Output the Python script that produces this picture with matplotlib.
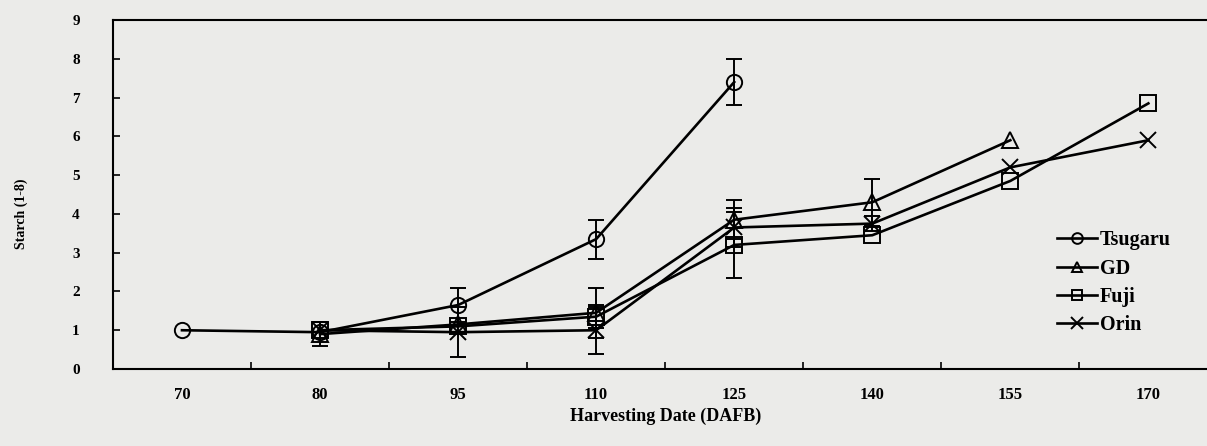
import numpy as np
import matplotlib
matplotlib.use("Agg")
import matplotlib.pyplot as plt

# ---- Data ----
dates = ["70", "80", "95", "110", "125", "140", "155", "170"]

tsugaru = [1.0, 0.95, 1.65, 3.35, 7.4, None, None, None]
tsugaru_err = [0, 0, 0.45, 0.5, 0.6, 0, 0, 0]

gd = [None, 0.9, 1.15, 1.45, 3.85, 4.3, 5.9, None]
gd_err = [0, 0.3, 0, 0.65, 0.5, 0.6, 0, 0]

fuji = [None, 1.0, 1.1, 1.35, 3.2, 3.45, 4.85, 6.85]
fuji_err = [0, 0, 0, 0.3, 0.85, 0, 0, 0]

orin = [None, 1.0, 0.95, 1.0, 3.65, 3.75, 5.2, 5.9]
orin_err = [0, 0, 0.65, 0.6, 0.5, 0.2, 0, 0]

series = [("Tsugaru", tsugaru, tsugaru_err, "o"),
          ("GD", gd, gd_err, "^"),
          ("Fuji", fuji, fuji_err, "s"),
          ("Orin", orin, orin_err, "x")]

plt.rcParams["font.family"] = ["Liberation Serif", "DejaVu Serif"]
plt.rcParams["font.weight"] = "bold"

bg = "#ebebe9"
fig = plt.figure(figsize=(12.07, 4.46), dpi=100, facecolor=bg)
ax = fig.add_axes([0.0936, 0.1726, 0.915, 0.7825], facecolor=bg)

xpos = np.arange(len(dates))
for name, vals, errs, mk in series:
    idx = [i for i, v in enumerate(vals) if v is not None]
    x = xpos[idx]
    y = np.array([vals[i] for i in idx])
    e = np.array([errs[i] for i in idx])
    ax.errorbar(x, y, yerr=np.where(e > 0, e, np.nan), color="black", lw=1.9,
                marker=mk, markersize=11 if mk != "x" else 12,
                markerfacecolor="none", markeredgecolor="black", markeredgewidth=1.4,
                ecolor="black", elinewidth=1.4, capsize=6, capthick=1.4, label=name)

ax.set_xlim(-0.5, len(dates) - 0.5)
ax.set_ylim(0, 9)
ax.set_yticks(range(0, 10))
ax.set_xticks(xpos)
ax.set_xticklabels(dates)
ax.set_xticks(xpos[:-1] + 0.5, minor=True)
ax.tick_params(axis="x", which="major", length=0, pad=13, labelsize=12)
ax.tick_params(axis="x", which="minor", direction="in", length=5, width=1.2)
ax.tick_params(axis="y", direction="in", length=5, width=1.2, pad=24, labelsize=11)
for s in ax.spines.values():
    s.set_linewidth(1.5)

ax.set_xlabel("Harvesting Date (DAFB)", fontsize=13, fontweight="bold", labelpad=3)
fig.text(0.018, 0.52, "Starch (1-8)", rotation=90, ha="center", va="center",
         fontsize=10, fontweight="bold")

# legend handles without error bars
handles, labels = ax.get_legend_handles_labels()
handles = [h[0] for h in handles]
ax.legend(handles, labels, loc="upper left", bbox_to_anchor=(0.838, 0.45),
          frameon=False, fontsize=14.5, handlelength=2.0, handletextpad=0.15,
          labelspacing=0.42, markerscale=0.7)

fig.savefig("out.png", dpi=100, facecolor=bg)
